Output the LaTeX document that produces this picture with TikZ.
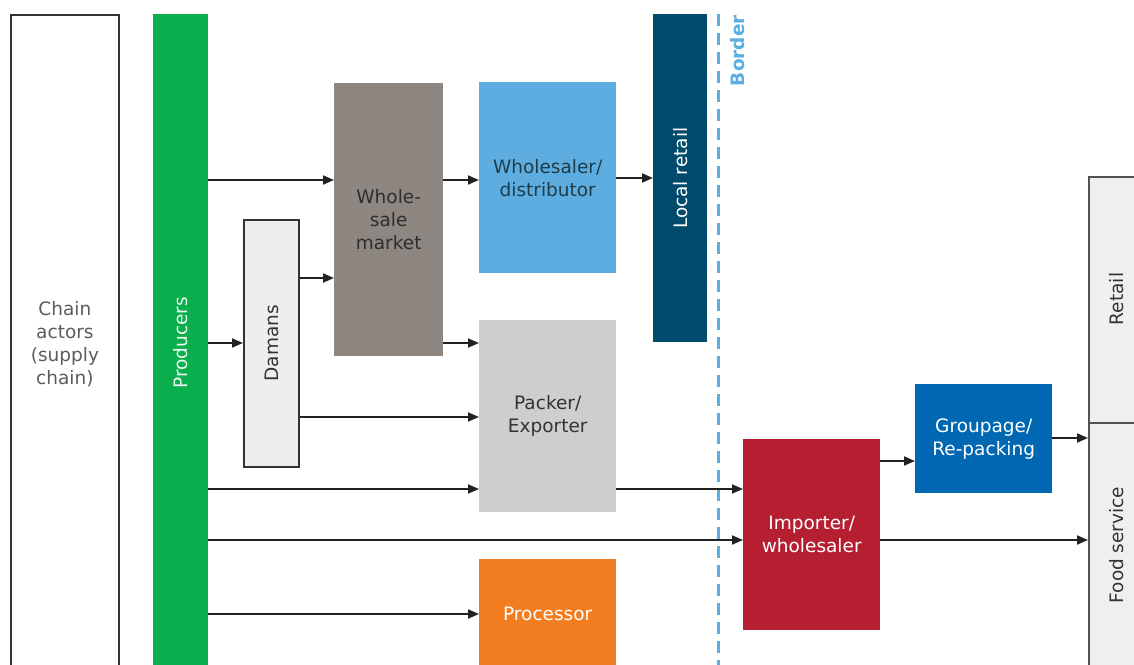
\documentclass[tikz,border=0pt]{standalone}
\usepackage{fontspec}
\setmainfont{DejaVu Sans}
\usetikzlibrary{arrows.meta}
\definecolor{cgreen}{HTML}{0BAE4D}
\definecolor{cwm}{HTML}{8E8680}
\definecolor{cws}{HTML}{5DADE0}
\definecolor{clr}{HTML}{004A6B}
\definecolor{cborder}{HTML}{5AAFE0}
\definecolor{cdam}{HTML}{EFEEEC}
\definecolor{cpack}{HTML}{CDCED0}
\definecolor{cproc}{HTML}{F27D21}
\definecolor{cimp}{HTML}{B51F31}
\definecolor{cgroup}{HTML}{0067B2}
\definecolor{cret}{HTML}{EFEFED}
\definecolor{cline}{HTML}{222222}
\definecolor{cdark}{HTML}{333333}
\begin{document}
\begin{tikzpicture}[x=1pt,y=-1pt,
  box/.style={inner sep=0pt, align=center, anchor=north west,
    font=\fontsize{18.5}{23}\selectfont},
  lbl/.style={inner sep=0pt, align=center, font=\fontsize{18.5}{23}\selectfont},
  arr/.style={draw=cline, line width=1.8pt, -{Triangle[length=11pt,width=9pt]}},
]
\useasboundingbox (0,0) rectangle (1134,664);
\clip (0,0) rectangle (1134,664);
\fill[white] (0,0) rectangle (1134,664);

% helper coordinates for arrow heights
\foreach \y in {178,180,278,343,417,438,461,489,540,614}{\coordinate (h\y) at (0,\y);}

% chain actors
\node[box, draw=cdark, line width=1.8pt, minimum width=108pt, minimum height=658pt,
  text=cdark!80!white] (chain) at (10,14) {Chain\\actors\\(supply\\chain)};

% producers
\node[box, fill=cgreen, minimum width=55pt, minimum height=658pt] (prod) at (153,14) {};
\node[lbl, rotate=90, text=white!92!cgreen] (prodl) at (180.5,343) {Producers};

% damans
\node[box, fill=cdam, draw=cdark, line width=1.8pt, minimum width=55pt, minimum height=247pt] (dam) at (243,219) {};
\node[lbl, rotate=90, text=cdark] (daml) at (dam.center) {Damans};

% wholesale market
\node[box, fill=cwm, minimum width=109pt, minimum height=273pt, text=cdark!90!black] (wm) at (334,83) {Whole-\\sale\\market};

% wholesaler/distributor
\node[box, fill=cws, minimum width=137pt, minimum height=191pt, text=cdark!60!clr] (ws) at (479,82) {Wholesaler/\\distributor};

% local retail
\node[box, fill=clr, minimum width=54pt, minimum height=328pt] (lr) at (653,14) {};
\node[lbl, rotate=90, text=white] (lrl) at (lr.center) {Local retail};

% packer
\node[box, fill=cpack, minimum width=137pt, minimum height=192pt, text=cdark] (pack) at (479,320) {Packer/\\Exporter};

% processor
\node[box, fill=cproc, minimum width=137pt, minimum height=110pt, text=white] (proc) at (479,559) {Processor};

% border
\coordinate (btop) at (718,14);
\coordinate (bbot) at (718,670);
\draw[cborder, line width=3pt, dash pattern=on 12pt off 7pt] (btop) -- (bbot);
\node[lbl, rotate=90, anchor=east, text=cborder, font=\bfseries\fontsize{18.5}{23}\selectfont] (bord) at (738,15) {Border};

% importer
\node[box, fill=cimp, minimum width=137pt, minimum height=191pt, text=white] (imp) at (743,439) {Importer/\\wholesaler};

% groupage
\node[box, fill=cgroup, minimum width=137pt, minimum height=109pt, text=white] (grp) at (915,384) {Groupage/\\Re-packing};

% retail / food service
\node[box, fill=cret, draw=cdark!85!white, line width=1.8pt, minimum width=60pt, minimum height=246pt] (ret) at (1088,176) {};
\node[lbl, rotate=90, text=cdark] (retl) at (1117,299) {Retail};
\node[box, fill=cret, draw=cdark!85!white, line width=1.8pt, minimum width=60pt, minimum height=246pt] (food) at (1088,422) {};
\node[lbl, rotate=90, text=cdark] (foodl) at (1117,545) {Food service};

% arrows
\draw[arr] (prod.east |- h180) -- (wm.west |- h180);
\draw[arr] (wm.east |- h180) -- (ws.west |- h180);
\draw[arr] (ws.east |- h178) -- (lr.west |- h178);
\draw[arr] (prod.east |- h343) -- (dam.west |- h343);
\draw[arr] (dam.east |- h278) -- (wm.west |- h278);
\draw[arr] (wm.east |- h343) -- (pack.west |- h343);
\draw[arr] (dam.east |- h417) -- (pack.west |- h417);
\draw[arr] (prod.east |- h489) -- (pack.west |- h489);
\draw[arr] (pack.east |- h489) -- (imp.west |- h489);
\draw[arr] (prod.east |- h540) -- (imp.west |- h540);
\draw[arr] (prod.east |- h614) -- (proc.west |- h614);
\draw[arr] (imp.east |- h461) -- (grp.west |- h461);
\draw[arr] (grp.east |- h438) -- (food.west |- h438);
\draw[arr] (imp.east |- h540) -- (food.west |- h540);
\end{tikzpicture}
\end{document}
